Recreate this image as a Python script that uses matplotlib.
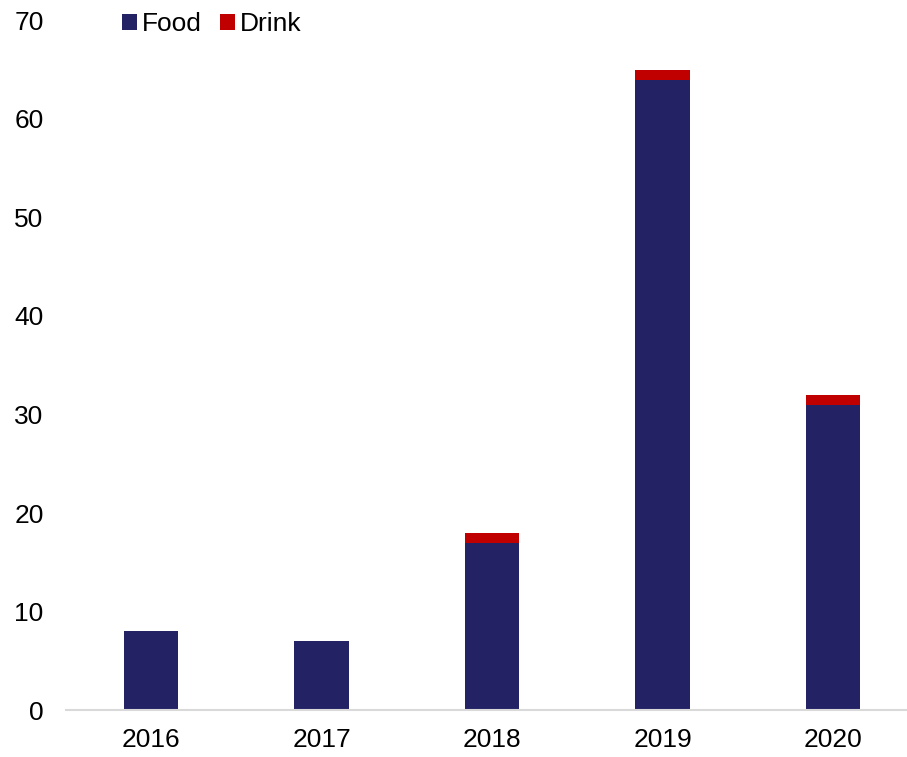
import matplotlib.pyplot as plt
import numpy as np

plt.rcParams['font.family'] = ['Liberation Sans', 'DejaVu Sans']

years = ['2016', '2017', '2018', '2019', '2020']
food = [8, 7, 17, 64, 31]
drink = [0, 0, 1, 1, 1]

food_color = '#232264'
drink_color = '#C00000'

fig = plt.figure(figsize=(9.07, 7.57), dpi=100)
ax = fig.add_axes([0.0725, 0.062, 0.94, 0.911])

x = np.arange(len(years))
w = 0.32
ax.bar(x, food, w, color=food_color, label='Food')
ax.bar(x, drink, w, bottom=food, color=drink_color, label='Drink')

ax.set_xlim(-0.5, len(years) - 0.5)
ax.set_ylim(0, 70)
ax.set_yticks(range(0, 71, 10))
ax.set_xticks(x)
ax.set_xticklabels(years)
ax.tick_params(axis='both', length=0, labelsize=19)
ax.tick_params(axis='y', pad=16)
ax.tick_params(axis='x', pad=13)

for s in ['top', 'right', 'left']:
    ax.spines[s].set_visible(False)
ax.spines['bottom'].set_color('#d9d9d9')
ax.spines['bottom'].set_linewidth(1.5)

ax.legend(loc='center left', bbox_to_anchor=(0.066, 0.995), ncol=2, frameon=False,
          fontsize=19, handlelength=0.55, handleheight=0.55, handletextpad=0.2,
          columnspacing=0.7, borderaxespad=0, borderpad=0)

fig.savefig('out.png', dpi=100)
